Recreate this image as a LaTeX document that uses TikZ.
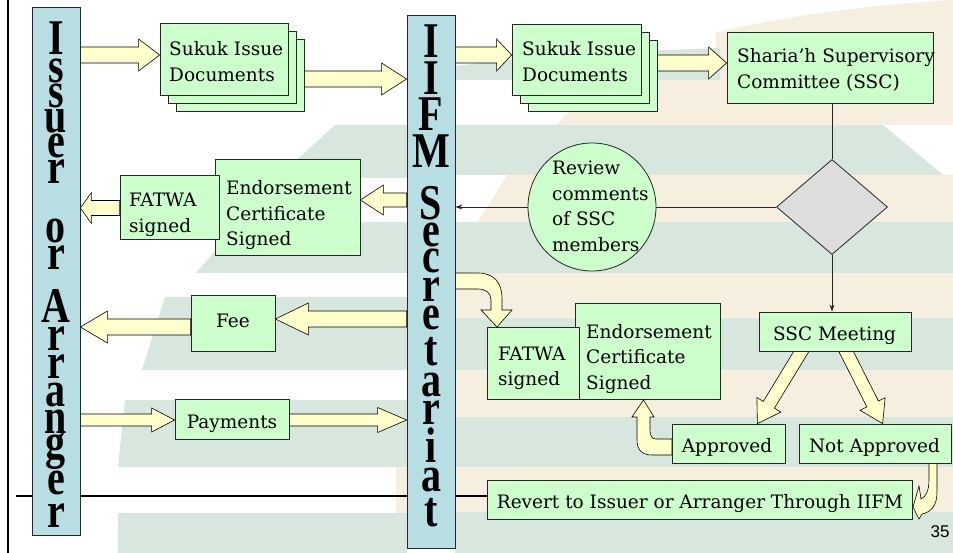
\documentclass[tikz,border=0pt]{standalone}
\usepackage{fontspec}
\usepackage{graphicx}
\setmainfont{DejaVu Serif}
\newfontfamily\barfont{Liberation Serif}
\newfontfamily\numfont{Liberation Sans}
\usetikzlibrary{calc,arrows.meta,shapes.geometric}
\definecolor{boxg}{HTML}{CCFFCC}
\definecolor{barb}{HTML}{B7DEE3}
\definecolor{arry}{HTML}{FFFFCC}
\definecolor{diag}{HTML}{DDDDDD}
\definecolor{bgg}{HTML}{D8E7DE}
\definecolor{bgb}{HTML}{F6EEDF}
\pgfdeclarelayer{bg}
\pgfdeclarelayer{mid}
\pgfsetlayers{bg,mid,main}
\tikzset{
 box/.style={draw=black!85, fill=boxg, line width=0.8pt, inner sep=0pt, rectangle},
 bar/.style={draw=black!85, fill=barb, line width=0.8pt, inner sep=0pt, rectangle},
 blk/.style={draw=black, fill=arry, line width=0.6pt, line join=miter},
 txt/.style={inner sep=0pt, font=\fontsize{18.5}{25.5}\selectfont},
 ltr/.style={inner sep=0pt, anchor=base, font=\barfont\bfseries\fontsize{50}{50}\selectfont},
 conn/.style={draw=black!85, line width=0.8pt},
 tip/.style={-{Stealth[length=7pt,width=5pt]}},
}
\newcommand\bx[6][box]{%
  \pgfmathsetmacro\bxw{#5-#3}\pgfmathsetmacro\bxh{#6-#4}%
  \node[#1, minimum width=\bxw pt, minimum height=\bxh pt] (#2) at ({(#3+#5)/2},{(#4+#6)/2}) {};}
\newcommand\ml[1]{\vtop{\baselineskip=25.5pt #1}}
\newcommand\lt[1]{\hbox to 0pt{\hss\smash{\scalebox{0.8}[1]{#1}}\hss}}
% block arrow: tail, tip, shaft half width, head half width, head length
\newcommand\blk[5]{%
  \coordinate (bkB) at ($(#2)!#5pt!(#1)$);
  \draw[blk] ($(#1)!#3pt!90:(#2)$) -- ($(bkB)!#3pt!90:(#2)$) -- ($(bkB)!#4pt!90:(#2)$) -- (#2)
    -- ($(bkB)!#4pt!-90:(#2)$) -- ($(bkB)!#3pt!-90:(#2)$) -- ($(#1)!#3pt!-90:(#2)$) -- cycle;}
\begin{document}
\begin{tikzpicture}[x=1pt,y=-1pt]
\useasboundingbox (0,0) rectangle (953,553);
\begin{pgfonlayer}{bg}
\fill[white] (0,0) rectangle (953,553);
% left stripes
\fill[bgg] (335,125) -- (407,125) -- (407,178) -- (277,178) -- cycle;
\fill[bgg] (240,222) -- (407,222) -- (407,273) -- (196,273) -- cycle;
\fill[bgg] (165,297) -- (407,297) -- (407,370) -- (142,370) -- cycle;
\fill[bgg] (125,400) -- (407,400) -- (407,467) -- (118,467) -- cycle;
\fill[bgg] (118,513) -- (407,513) -- (407,553) -- (118,553) -- cycle;
\fill[bgb] (396,467) rectangle (407,513);
% right stripes
\fill[bgb] (715,33) .. controls (800,12) and (900,3) .. (953,0) -- (953,125) -- (556,125) -- (585,95) -- (600,80) -- (720,80) -- cycle;
\fill[bgg] (455,66) -- (560,54) -- (720,48) -- (720,80) -- (455,80) -- cycle;
\fill[bgg] (455,125) -- (883,125) -- (943,175) -- (455,175) -- cycle;
\fill[bgb] (507,175) -- (953,175) -- (953,222) -- (478,222) -- cycle;
\fill[bgg] (455,222) rectangle (953,273);
\fill[bgb] (455,273) rectangle (953,318);
\fill[bgg] (455,318) rectangle (953,370);
\fill[bgb] (455,370) rectangle (953,417);
\fill[bgg] (455,417) rectangle (953,467);
\fill[bgb] (455,467) rectangle (953,512);
\fill[bgg] (455,512) rectangle (953,553);
\end{pgfonlayer}

% bars
\bx[bar]{iss}{32}{7}{80}{535}
\bx[bar]{iifm}{407}{15}{455}{548}
\node[ltr] (isst) at (56,55) {\vtop{\offinterlineskip
  \lt{I}\kern28pt\lt{s}\kern25pt\lt{s}\kern25pt\lt{u}\kern25pt\lt{e}\kern26pt\lt{r}\kern59pt
  \lt{o}\kern27pt\lt{r}\kern53pt
  \lt{A}\kern28pt\lt{r}\kern28pt\lt{r}\kern28pt\lt{a}\kern27pt\lt{n}\kern25pt\lt{g}\kern36pt\lt{e}\kern33pt\lt{r}}};
\node[ltr] (iifmt) at (431,58) {\vtop{\offinterlineskip
  \lt{I}\kern37pt\lt{I}\kern36pt\lt{F}\kern37pt\lt{M}\kern52pt
  \lt{S}\kern27pt\lt{e}\kern26pt\lt{c}\kern29pt\lt{r}\kern28pt\lt{e}\kern36pt\lt{t}\kern31pt\lt{a}\kern28pt\lt{r}\kern38pt\lt{i}\kern29pt\lt{a}\kern35pt\lt{t}}};

% boxes
\bx{suk1c}{176}{39}{304}{111}
\bx{suk1b}{168}{31}{296}{103}
\bx{suk1}{160}{23}{288}{95}
\bx{suk2c}{528}{40}{657}{111}
\bx{suk2b}{520}{32}{649}{103}
\bx{suk2}{512}{24}{641}{95}
\bx{ssc}{727}{32}{933}{103}
\bx{endo1}{215}{159}{360}{255}
\bx{fat1}{120}{175}{219}{239}
\bx{fee}{191}{295}{275}{351}
\bx{pay}{175}{399}{289}{439}
\bx{endo2}{575}{303}{720}{399}
\bx{fat2}{487}{327}{579}{399}
\bx{meet}{759}{312}{911}{351}
\bx{appr}{672}{424}{785}{463}
\bx{nap}{799}{424}{951}{463}
\bx{rev}{487}{480}{912}{519}
\node[diamond, draw=black!85, fill=diag, line width=0.8pt, minimum width=111pt, minimum height=95pt, inner sep=0pt] (dia) at (832,207) {};
\node[circle, draw=black!85, fill=boxg, line width=0.8pt, minimum size=128pt, inner sep=0pt] (circ) at (592,207) {};

% texts
\node[txt, anchor=base west] (suk1t) at (169,56) {\ml{\hbox{Sukuk Issue}\hbox{Documents}}};
\node[txt, anchor=base west] (suk2t) at (522,56) {\ml{\hbox{Sukuk Issue}\hbox{Documents}}};
\node[txt, anchor=base west] (ssct) at (737,63) {\ml{\hbox{Sharia’h Supervisory}\hbox{Committee (SSC)}}};
\node[txt, anchor=base west] (circt) at (552,175) {\ml{\hbox{Review}\hbox{comments}\hbox{of SSC}\hbox{members}}};
\node[txt, anchor=base west] (endo1t) at (226,195) {\ml{\hbox{Endorsement}\hbox{Certificate}\hbox{Signed}}};
\node[txt, anchor=base west] (fat1t) at (129,207) {\ml{\hbox{FATWA}\hbox{signed}}};
\node[txt, anchor=base] (feet) at (233,327) {Fee};
\node[txt, anchor=base] (payt) at (232,428) {Payments};
\node[txt, anchor=base west] (endo2t) at (586,338) {\ml{\hbox{Endorsement}\hbox{Certificate}\hbox{Signed}}};
\node[txt, anchor=base west] (fat2t) at (498,360) {\ml{\hbox{FATWA}\hbox{signed}}};
\node[txt, anchor=base] (meett) at (834.5,341) {SSC Meeting};
\node[txt, anchor=base] (apprt) at (727,452) {Approved};
\node[txt, anchor=base] (napt) at (874.5,452) {Not Approved};
\node[txt, anchor=base] (revt) at (700,508) {Revert to Issuer or Arranger Through IIFM};
\node[inner sep=0pt, anchor=base, font=\numfont\fontsize{17}{17}\selectfont] (pg) at (940,537) {35};

% slide rules
\draw[line width=1.6pt] (8,0) -- (8,553);

\begin{pgfonlayer}{mid}
\coordinate (hl) at (16,496);
\draw[line width=2.6pt] (hl) -- (rev.west |- hl);
% thin connectors
\draw[conn] (dia.north) -- (dia.north |- ssc.south);
\draw[conn] (dia.west) -- (circ.east);
\draw[conn, tip] (circ.west) -- (iifm.east |- circ.west);
\draw[conn, tip] (dia.south) -- (dia.south |- meet.north);
% straight block arrows
\blk{iss.east |- 0,55}{suk1.west |- 0,55}{8}{16}{21}
\blk{suk1c.east |- 0,79}{iifm.west |- 0,79}{8}{16}{25}
\blk{iifm.east |- 0,55}{suk2.west |- 0,55}{8}{16}{15}
\blk{suk2c.east |- 0,63}{ssc.west |- 0,63}{8}{16}{18}
\blk{iifm.west |- 0,200}{endo1.east |- 0,200}{7}{15}{23}
\blk{fat1.west |- 0,208}{iss.east |- 0,208}{7.5}{15.5}{11}
\blk{iifm.west |- 0,319}{fee.east |- 0,319}{8}{16}{33}
\blk{fee.west |- 0,327}{iss.east |- 0,327}{8}{16}{27}
\blk{iss.east |- 0,420}{pay.west |- 0,420}{6}{12}{23}
\blk{pay.east |- 0,420}{iifm.west |- 0,420}{6}{12.5}{29}
\coordinate (d1a) at ($(meet.south)+(-30,-6)$);
\coordinate (d1b) at ($(appr.north east)+(-28,0)$);
\coordinate (d2a) at ($(meet.south)+(8,-6)$);
\coordinate (d2b) at ($(nap.north west)+(84,0)$);
\blk{d1a}{d1b}{6.5}{14}{22}
\blk{d2a}{d2b}{6.5}{14}{22}
% curved block arrows
\draw[blk] (455,273) -- (478,273) .. controls (494,273) and (502,283) .. (502,298) -- (502,310) -- (512,310) -- (497,327) -- (481,310) -- (491,310) -- (491,300) .. controls (491,293) and (486,289) .. (478,289) -- (455,289) -- cycle;
\draw[blk] (672,439) -- (656,439) .. controls (652,439) and (650,436) .. (650,430) -- (650,417) -- (654,417) -- (643.5,400) -- (632,417) -- (637,417) -- (637,440) .. controls (637,450) and (642,455) .. (652,455) -- (672,455) -- cycle;
\draw[blk] (929,463) -- (937,463) -- (937,492) .. controls (937,506) and (931,512) .. (922,514) -- (919,519) -- (913,507) -- (919,486) -- (921,499) .. controls (926,497) and (929,490) .. (929,480) -- cycle;
\end{pgfonlayer}
\end{tikzpicture}
\end{document}
